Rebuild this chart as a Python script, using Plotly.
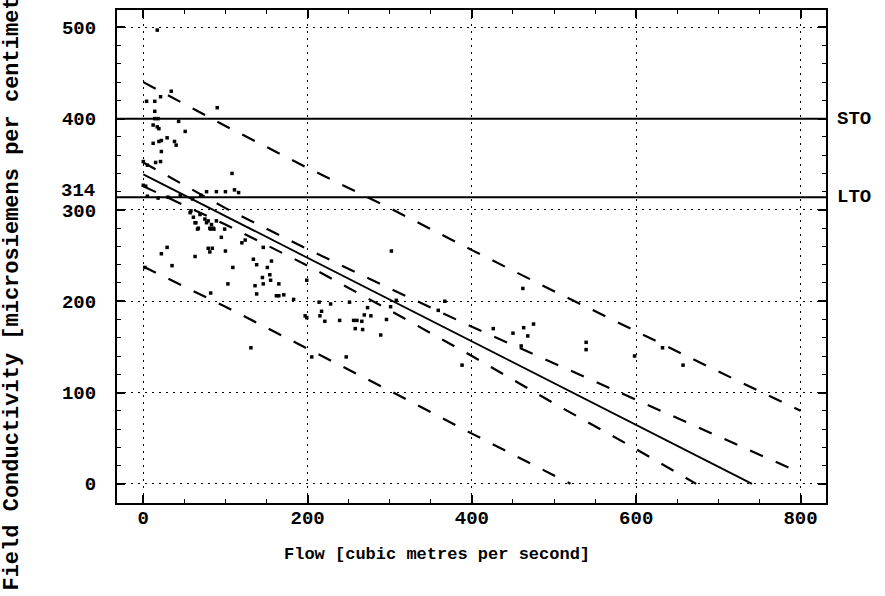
import plotly.graph_objects as go

# ---------------- data ----------------
flow = [17, 34, 21, 14, 4, 14, 90, 14, 18, 43, 12, 17, 19, 51, 29, 19, 22, 38, 40, 12,
        22, 0, 5, 15, 21, 108, 0, 3, 77, 89, 100, 111, 116, 5, 18, 30, 45, 60, 70,
        57, 58, 69, 61, 64, 66, 63, 75, 77, 79, 81, 83, 85, 67, 82, 86, 99, 89, 95,
        29, 22, 84, 81, 79, 100, 63, 35, 2, 120, 124, 109, 134, 138, 156, 151, 146,
        154, 155, 165, 145, 146, 138, 136, 162, 165, 171, 183, 103, 199, 82, 131,
        197, 199, 205, 214, 217, 215, 221, 228, 239, 251, 256, 260, 266, 258, 267,
        269, 277, 273, 296, 289, 301, 308, 247, 302, 359, 367, 388, 426, 450, 462,
        463, 475, 468, 460, 539, 539, 598, 657, 632]
conductivity = [497, 430, 424, 419, 419, 408, 412, 400, 400, 397, 393, 391, 389, 386, 379,
                375, 376, 375, 371, 373, 364, 353, 349, 352, 353, 340, 327, 326, 320, 320,
                320, 322, 319, 315, 313, 314, 316, 312, 316, 297, 299, 295, 292, 286, 279,
                286, 290, 286, 288, 280, 284, 280, 280, 279, 279, 279, 288, 270, 259, 252,
                258, 254, 258, 255, 249, 239, 237, 264, 267, 237, 246, 240, 244, 237, 259,
                229, 223, 219, 226, 219, 208, 217, 206, 206, 207, 202, 219, 223, 209, 149,
                184, 182, 139, 199, 189, 184, 178, 197, 179, 199, 179, 179, 178, 170, 169,
                185, 184, 193, 180, 163, 194, 201, 139, 255, 190, 200, 130, 170, 165, 214,
                171, 175, 162, 151, 155, 147, 140, 130, 149]

fit_x = [0, 741]
fit_y = [339, 0]

band_x = [0, 100, 200, 300, 400, 500, 600, 700, 800]
conf_upper = [352, 302, 257, 214, 172, 132, 92, 52, 12]
pred_upper = [440, 392, 346, 302, 256, 211, 167, 123, 80]
conf_lower_x = [0, 100, 200, 300, 400, 500, 600, 673]
conf_lower = [326, 284, 239, 190, 140, 88, 38, 0]
pred_lower_x = [0, 100, 200, 300, 400, 500, 520]
pred_lower = [238, 194, 148, 102, 55, 9, 0]

limits = [400, 314]
limit_names = ["STO", "LTO"]

x_ticks = [0, 200, 400, 600, 800]
y_ticks = [0, 100, 200, 300, 400, 500]

# ---------------- figure ----------------
FONT = "Liberation Mono"
fig = go.Figure()

dash = "14px,14px"
for xs, ys in [(band_x, pred_upper), (band_x, conf_upper),
               (conf_lower_x, conf_lower), (pred_lower_x, pred_lower)]:
    fig.add_trace(go.Scatter(x=xs, y=ys, mode="lines",
                             line=dict(color="black", width=2.2, dash=dash),
                             hoverinfo="skip", showlegend=False))

fig.add_trace(go.Scatter(x=fit_x, y=fit_y, mode="lines",
                         line=dict(color="black", width=1.8),
                         showlegend=False))

fig.add_trace(go.Scatter(x=flow, y=conductivity, mode="markers",
                         marker=dict(color="black", size=3.5, symbol="square"),
                         showlegend=False))

for val, name in zip(limits, limit_names):
    fig.add_shape(type="line", xref="paper", x0=0, x1=1, yref="y", y0=val, y1=val,
                  line=dict(color="black", width=2))
    fig.add_annotation(xref="paper", x=1, y=val, yref="y", text=name, showarrow=False,
                       xanchor="left", xshift=9,
                       font=dict(family=FONT, size=19, color="black", weight="bold"))

# 314 label stacked just above 300
fig.add_annotation(xref="paper", x=0, y=314, yref="y", text="314", showarrow=False,
                   xanchor="right", xshift=-20, yshift=6,
                   font=dict(family=FONT, size=19, color="black", weight="bold"))

fig.add_annotation(xref="paper", yref="paper", x=0.451, y=-0.105, text="Flow [cubic metres per second]",
                   showarrow=False, xanchor="center", yanchor="middle",
                   font=dict(family=FONT, size=17, color="black", weight="bold"))

fig.add_annotation(xref="paper", yref="paper", x=-0.147, y=0.465,
                   text="Field Conductivity [microsiemens per centimetre]",
                   textangle=-90, showarrow=False, xanchor="center", yanchor="middle",
                   font=dict(family=FONT, size=22, color="black", weight="bold"))

axis_common = dict(showline=True, linecolor="black", linewidth=2, mirror="allticks",
                   ticks="inside", ticklen=8, tickwidth=1.5, tickcolor="black",
                   showgrid=True, gridcolor="black", gridwidth=1.3, griddash="2px,5px",
                   zeroline=False,
                   tickfont=dict(family=FONT, size=19, color="black", weight="bold"))

fig.update_xaxes(range=[-32, 831], tickmode="array", tickvals=x_ticks,
                 minor=dict(tickmode="linear", tick0=0, dtick=50, ticks="inside",
                            ticklen=4, tickcolor="black", tickwidth=1.2, showgrid=False),
                 ticklabelstandoff=-4, **axis_common)
fig.update_yaxes(range=[-21, 519], tickmode="array", tickvals=y_ticks,
                 minor=dict(tickmode="linear", tick0=0, dtick=20, ticks="inside",
                            ticklen=4, tickcolor="black", tickwidth=1.2, showgrid=False),
                 ticklabelstandoff=15, **axis_common)

fig.update_layout(width=885, height=596, plot_bgcolor="white", paper_bgcolor="white",
                  margin=dict(l=117, r=59, t=8, b=93), showlegend=False)

fig.write_html("out.html", config={"displayModeBar": False},
               post_script="document.body.style.margin='0';")
